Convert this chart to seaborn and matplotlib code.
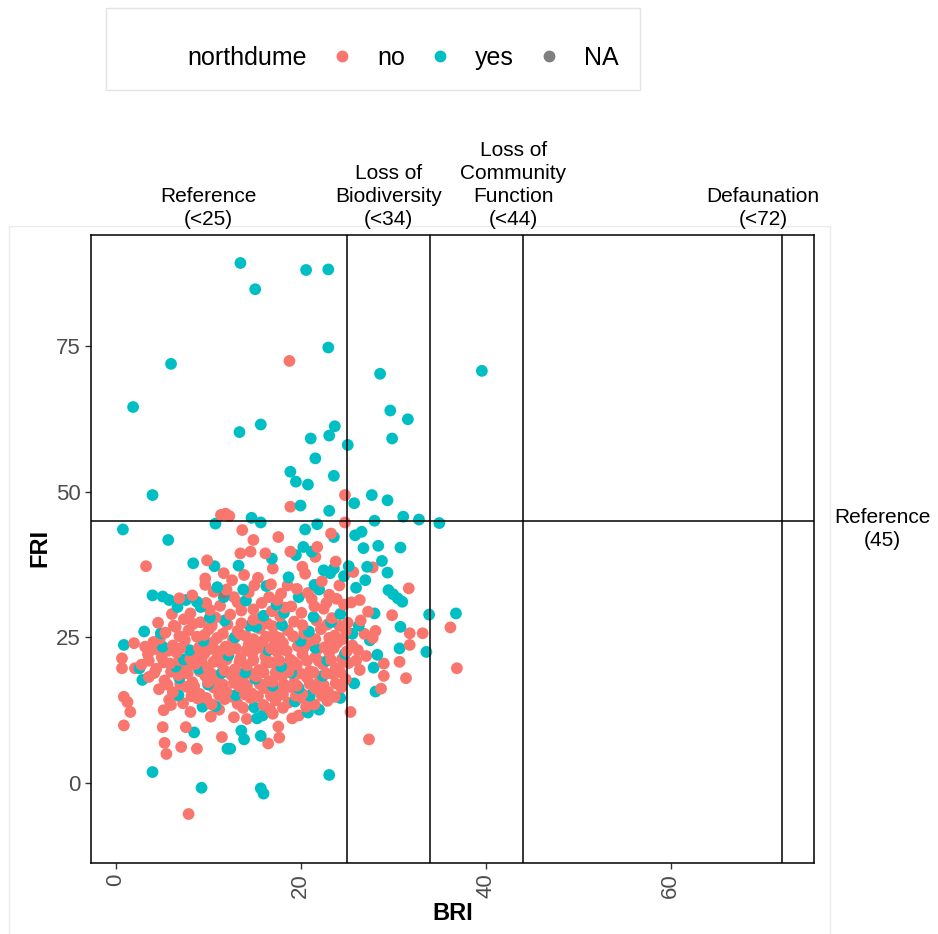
import pandas as pd
import seaborn as sns
import matplotlib.pyplot as plt
from matplotlib.lines import Line2D
from matplotlib.patches import Rectangle

# (BRI, FRI) pairs, one list per northdume group
no_outer = [(18.8, 72.4), (11.4, 46.0), (11.9, 46.2), (12.3, 45.8), (24.8, 49.4), (18.9, 47.4),
            (24.8, 44.7), (13.7, 43.4), (14.9, 41.7), (17.6, 42.2), (23.3, 42.8), (21.8, 40.5),
            (13.5, 39.4), (14.6, 39.7), (16.2, 39.4), (18.9, 39.7), (21.6, 38.8), (23.8, 38.0),
            (9.9, 38.2), (3.3, 37.2), (17.0, 36.8), (20.2, 37.1), (27.8, 37.0), (9.7, 35.1),
            (11.7, 36.0), (13.9, 35.7), (20.5, 35.9), (12.6, 34.8), (15.4, 35.2), (16.8, 34.1),
            (22.3, 34.6), (24.2, 33.9), (25.7, 36.2), (9.7, 34.0), (6.9, 31.7), (8.3, 32.2),
            (8.1, 29.1), (10.6, 32.8), (12.8, 31.9), (14.4, 32.7), (17.9, 32.5), (19.6, 33.3),
            (21.2, 31.6), (23.1, 32.3), (25.5, 31.0), (26.4, 31.4), (31.7, 33.4), (11.3, 30.4),
            (13.6, 29.6), (15.8, 30.9), (18.3, 30.1), (20.1, 29.2), (22.5, 29.9), (24.7, 30.6),
            (27.3, 29.4), (29.9, 28.8), (28.1, 26.1), (31.8, 25.7), (33.2, 25.7), (36.2, 26.7),
            (31.8, 23.7), (30.7, 20.8), (29.0, 20.5), (36.9, 19.7), (29.0, 18.4), (31.4, 18.0),
            (28.7, 16.2), (27.4, 7.5), (25.4, 12.2)]
no_low = [(6.5, 26.8), (2.0, 24.0), (3.2, 23.4), (0.7, 21.4), (0.7, 19.7), (2.1, 19.7),
          (0.9, 14.8), (1.6, 12.2), (0.9, 9.9), (1.3, 13.9), (5.1, 9.6), (5.3, 6.9), (5.5, 5.0),
          (7.6, 9.6), (7.1, 6.2), (8.8, 5.9), (11.5, 7.9), (7.9, -5.3), (5.2, 12.5), (6.0, 13.4),
          (8.1, 12.2), (10.3, 11.4), (12.8, 11.3), (14.2, 11.0), (16.5, 6.8), (17.6, 9.7),
          (17.7, 7.8), (19.1, 11.1), (19.8, 11.6)]
no_core = [(4.6, 27.5), (7.4, 28.1), (9.2, 27.6), (10.8, 28.4), (12.1, 27.2), (14.9, 28.0),
           (16.4, 27.4), (17.8, 28.6), (19.3, 27.7), (21.7, 27.9), (23.4, 28.3), (25.1, 27.5),
           (26.5, 27.9), (5.4, 25.8), (7.9, 26.2), (8.8, 25.1), (10.1, 26.4), (11.6, 25.6),
           (13.2, 26.1), (14.1, 25.2), (15.6, 26.5), (17.1, 25.4), (18.6, 26.2), (20.4, 25.7),
           (22.2, 26.4), (23.7, 25.3), (24.9, 26.1), (26.9, 25.6), (27.8, 24.9), (4.1, 24.2),
           (6.2, 23.6), (7.5, 24.5), (9.0, 23.2), (10.5, 24.1), (11.9, 23.4), (12.7, 24.6),
           (14.4, 23.8), (15.9, 24.3), (16.8, 23.1), (18.1, 24.0), (19.7, 23.5), (21.0, 24.4),
           (22.6, 23.3), (24.0, 24.1), (25.6, 23.6), (26.2, 22.8), (3.5, 22.1), (5.0, 21.6),
           (6.6, 22.4), (8.1, 21.3), (9.6, 22.2), (11.0, 21.5), (12.3, 22.7), (13.5, 21.4),
           (14.8, 22.3), (16.2, 21.7), (17.5, 22.5), (18.9, 21.2), (20.2, 22.1), (21.6, 21.6),
           (23.1, 22.4), (24.5, 21.3), (27.1, 21.8), (2.8, 20.3), (4.4, 19.6), (5.9, 20.5),
           (7.2, 19.3), (8.6, 20.4), (10.0, 19.8), (11.4, 20.6), (12.9, 19.5), (14.2, 20.2),
           (15.5, 19.4), (16.9, 20.7), (18.3, 19.6), (19.6, 20.3), (21.0, 19.2), (22.4, 20.4),
           (23.8, 19.7), (25.2, 20.6), (26.4, 19.4), (3.6, 18.2), (5.3, 17.6), (6.8, 18.5),
           (8.3, 17.3), (9.7, 18.4), (11.1, 17.7), (12.5, 18.6), (13.8, 17.4), (15.2, 18.3),
           (16.6, 17.5), (18.0, 18.4), (19.3, 17.2), (20.7, 18.1), (22.1, 17.6), (23.5, 18.7),
           (24.9, 17.8), (4.7, 16.1), (6.2, 15.6), (7.7, 16.5), (9.1, 15.3), (10.6, 16.4),
           (12.0, 15.7), (13.4, 16.6), (14.7, 15.4), (16.1, 16.3), (17.4, 15.5), (18.8, 16.5),
           (20.2, 15.3), (21.6, 16.2), (23.0, 15.6), (24.4, 16.4), (5.8, 14.3), (7.3, 13.7),
           (8.9, 14.5), (10.4, 13.5), (11.8, 14.4), (13.2, 13.6), (14.6, 14.6), (16.0, 13.4),
           (17.3, 14.2), (18.7, 13.8), (20.1, 14.7), (21.5, 13.5), (22.9, 14.1), (10.2, 29.7),
           (12.4, 28.9), (16.9, 29.5), (19.0, 30.3), (22.8, 30.9)]
no_fill = [(6.1, 29.0), (9.8, 30.9), (14.9, 29.8), (17.5, 31.4), (21.5, 30.3), (23.9, 31.6),
           (6.3, 27.0), (8.4, 27.3), (10.4, 27.0), (13.6, 27.4), (15.7, 28.3), (17.0, 26.9),
           (20.2, 27.1), (22.9, 27.2), (24.2, 27.0), (4.8, 24.8), (6.9, 25.2), (9.6, 25.4),
           (11.0, 24.9), (13.5, 25.5), (14.9, 24.7), (16.3, 25.1), (17.7, 24.9), (19.2, 25.2),
           (21.6, 24.7), (23.1, 24.9), (24.6, 24.7), (4.3, 23.0), (5.7, 22.7), (7.0, 23.1),
           (8.7, 22.4), (10.2, 23.0), (11.2, 22.6), (13.0, 23.1), (14.1, 22.7), (15.4, 23.2),
           (17.2, 23.8), (18.5, 22.7), (20.4, 23.3), (21.8, 22.9), (23.6, 23.2), (25.0, 22.6),
           (3.6, 21.0), (5.2, 20.7), (6.9, 21.1), (8.0, 20.3), (9.3, 21.0), (10.6, 20.8),
           (12.0, 21.2), (13.4, 20.8), (14.9, 21.1), (16.3, 20.6), (17.7, 21.0), (19.2, 20.8),
           (20.7, 21.0), (22.0, 20.9), (23.3, 21.1), (24.7, 20.8), (26.0, 21.0), (4.2, 18.9),
           (6.0, 19.1), (7.8, 18.8), (9.1, 19.2), (10.5, 18.6), (11.8, 19.3), (13.2, 18.9),
           (14.6, 18.8), (16.0, 19.0), (17.3, 18.9), (18.7, 19.1), (20.0, 18.8), (21.4, 19.0),
           (22.8, 18.8), (24.3, 19.0), (5.6, 16.9), (7.0, 17.0), (8.5, 16.6), (10.0, 17.3),
           (11.6, 16.9), (12.8, 17.2), (14.2, 16.7), (15.6, 17.0), (17.0, 17.4), (18.2, 16.9),
           (19.6, 16.7), (21.0, 17.0), (22.5, 16.8), (23.8, 17.1), (6.7, 15.0), (8.2, 14.9),
           (9.8, 14.6), (11.2, 15.1), (12.6, 14.8), (14.0, 15.2), (15.4, 14.9), (16.8, 15.0),
           (18.1, 15.2), (19.5, 15.0), (20.9, 14.8), (22.3, 15.0), (23.7, 14.8), (11.2, 12.6),
           (13.8, 12.9), (16.7, 12.7), (18.1, 12.9), (20.6, 13.1), (17.0, 11.9), (12.0, 33.2),
           (15.0, 33.9), (18.6, 33.9), (20.8, 32.6), (13.2, 31.0), (16.6, 31.9)]

yes_outer = [(13.5, 89.2), (20.6, 88.0), (23.0, 88.1), (15.1, 84.7), (6.0, 71.9), (1.9, 64.5),
             (23.0, 74.7), (28.6, 70.2), (39.6, 70.7), (29.7, 63.9), (31.6, 62.4), (13.4, 60.2),
             (15.7, 61.5), (23.7, 61.2), (23.1, 59.6), (21.1, 59.1), (29.9, 59.1), (25.1, 58.0),
             (21.6, 55.7), (18.9, 53.4), (19.5, 51.7), (20.8, 51.2), (23.6, 52.7), (25.8, 48.0),
             (20.0, 47.6), (23.1, 46.7), (14.7, 45.5), (15.7, 44.7), (21.8, 44.4), (20.5, 43.5),
             (23.6, 42.2), (25.9, 42.5), (26.6, 43.1), (20.3, 40.5), (21.2, 39.7), (19.5, 39.1),
             (16.9, 38.5), (26.8, 40.3), (23.6, 36.8), (23.2, 36.0), (25.2, 37.2), (27.2, 37.1),
             (4.0, 49.4), (10.8, 44.5), (0.8, 43.5), (5.7, 41.7), (8.4, 37.7), (10.7, 37.2),
             (27.7, 49.4), (29.4, 48.5), (31.1, 45.7), (32.8, 45.2), (35.0, 44.6), (28.0, 45.0),
             (28.4, 40.7), (30.8, 40.4), (28.8, 38.1), (29.4, 36.1)]
yes_side = [(29.5, 33.1), (30.0, 32.4), (30.5, 31.7), (31.0, 31.1), (28.0, 29.1), (33.9, 28.9),
            (36.8, 29.1), (30.8, 26.8), (30.7, 23.1), (33.6, 22.5), (28.1, 15.7), (27.5, 24.5),
            (28.3, 22.0), (27.9, 19.8), (4.0, 32.2), (5.1, 32.0), (5.8, 31.4), (6.7, 30.2),
            (7.6, 31.4), (8.8, 31.1), (9.2, 30.2), (3.1, 26.0), (4.9, 25.7), (0.9, 23.7),
            (2.6, 19.7), (2.9, 17.7), (5.1, 23.4), (6.9, 18.0), (6.5, 20.0)]
yes_low = [(8.5, 8.7), (12.1, 5.9), (4.0, 1.9), (9.3, -0.8), (23.1, 1.4), (15.7, -0.9),
           (16.0, -1.8), (13.6, 9.0), (13.9, 7.5), (15.7, 8.1), (20.8, 12.1), (15.3, 11.1),
           (15.9, 11.6), (12.4, 5.9), (9.4, 13.1), (10.8, 13.2)]
yes_core = [(11.0, 33.6), (14.1, 31.3), (16.3, 33.8), (19.8, 31.9), (22.0, 33.2), (17.4, 30.6),
            (21.4, 28.5), (24.3, 29.0), (11.8, 27.9), (15.2, 26.8), (18.0, 27.1), (12.9, 25.0),
            (20.9, 26.0), (9.5, 24.4), (16.5, 22.8), (22.9, 21.0), (14.0, 19.0), (8.0, 22.8),
            (19.0, 18.9), (11.5, 18.9), (25.8, 17.1), (10.0, 16.9), (17.0, 16.7), (13.0, 15.1),
            (21.0, 15.0), (6.8, 15.1), (19.4, 14.0), (24.3, 14.6), (15.0, 13.0), (22.0, 12.6),
            (26.3, 27.0), (26.0, 33.5), (24.7, 35.5), (18.7, 35.3), (13.3, 37.3), (22.5, 36.5),
            (27.0, 34.8), (21.5, 34.0), (12.2, 21.9), (17.9, 20.0), (20.0, 24.4), (23.3, 27.6),
            (14.5, 27.0), (9.0, 19.6), (19.8, 16.3), (24.8, 22.2), (11.7, 31.9), (16.0, 28.7),
            (22.4, 18.4), (7.4, 21.2), (13.8, 33.2), (18.2, 29.2), (25.6, 25.6), (21.6, 23.2),
            (10.2, 28.4), (15.1, 17.9)]

na_points = [(11.7, 32.6)]

groups = ["no", "yes", "NA"]
colors = ["#F8766D", "#00BFC4", "#7F7F7F"]
cutoffs_bri = [25, 34, 44, 72]
cutoff_fri = 45
zone_labels = ["Reference\n(<25)", "Loss of\nBiodiversity\n(<34)",
               "Loss of\nCommunity\nFunction\n(<44)", "Defaunation\n(<72)"]
zone_label_x = [10, 29.5, 43, 70]

rows = []
for pts, g in [(no_outer + no_low + no_core + no_fill, "no"),
               (yes_outer + yes_side + yes_low + yes_core, "yes"),
               (na_points, "NA")]:
    for b, f in pts:
        rows.append({"BRI": b, "FRI": f, "northdume": g})
df = pd.DataFrame(rows).sort_values("FRI", kind="stable")

plt.rcParams["font.family"] = ["Liberation Sans", "DejaVu Sans"]

fig = plt.figure(figsize=(9.38, 9.34), dpi=100)
W, H = 938, 934
ax = fig.add_axes([91 / W, 1 - 863 / H, (814 - 91) / W, (863 - 235) / H])

sns.scatterplot(data=df, x="BRI", y="FRI", hue="northdume", hue_order=groups,
                palette=dict(zip(groups, colors)), s=72, linewidth=0, alpha=1,
                legend=False, ax=ax, zorder=2)

for v in cutoffs_bri:
    ax.axvline(v, color="black", lw=1.1, zorder=3)
ax.axhline(cutoff_fri, color="black", lw=1.1, zorder=3)

ax.set_xlim(-2.65, 75.5)
ax.set_ylim(-13.7, 94.0)
ax.set_xticks([0, 20, 40, 60])
ax.set_yticks([0, 25, 50, 75])
ax.tick_params(axis="both", labelsize=16, labelcolor="#4D4D4D", color="#333333",
               length=4, width=1)
ax.tick_params(axis="x", labelrotation=90)
for sp in ax.spines.values():
    sp.set_color("black")
    sp.set_linewidth(1.1)
ax.set_xlabel("")
ax.set_ylabel("")

fig.text(40 / W, 1 - 548 / H, "FRI", rotation=90, ha="center", va="center",
         fontsize=17, fontweight="bold")
fig.text(453 / W, 1 - 913 / H, "BRI", ha="center", va="center",
         fontsize=17, fontweight="bold")

# zone labels above the panel
for lab, xv in zip(zone_labels, zone_label_x):
    ax.text(xv, 1.01, lab, transform=ax.get_xaxis_transform(), ha="center",
            va="bottom", fontsize=15, linespacing=1.25, clip_on=False)
ax.text(82.9, 43.6, "Reference\n(45)", ha="center", va="center", fontsize=15,
        linespacing=1.25, clip_on=False)

# faint outer panel frame
fig.add_artist(Rectangle((9 / W, -0.01), (830 - 9) / W, 1 - 226 / H + 0.01,
                         transform=fig.transFigure, fill=False, edgecolor="#ebebeb",
                         lw=1, zorder=0))

# legend with inline title
fig.add_artist(Rectangle((106 / W, 1 - 90 / H), (640 - 106) / W, 82 / H,
                         transform=fig.transFigure, fill=False, edgecolor="#e3e3e3", lw=1))
handles = [Line2D([], [], ls="none", marker="")]
handles += [Line2D([], [], ls="none", marker="o", ms=7.5, mfc=c, mec=c) for c in colors]
fig.legend(handles, ["northdume"] + groups, ncol=4, loc="center left",
           bbox_to_anchor=(140 / W, 1 - 58 / H), bbox_transform=fig.transFigure,
           frameon=False, fontsize=18, handlelength=1.0, handletextpad=0.9,
           columnspacing=0.9, borderpad=0, borderaxespad=0)

fig.savefig("out.png", dpi=100, facecolor="white")
